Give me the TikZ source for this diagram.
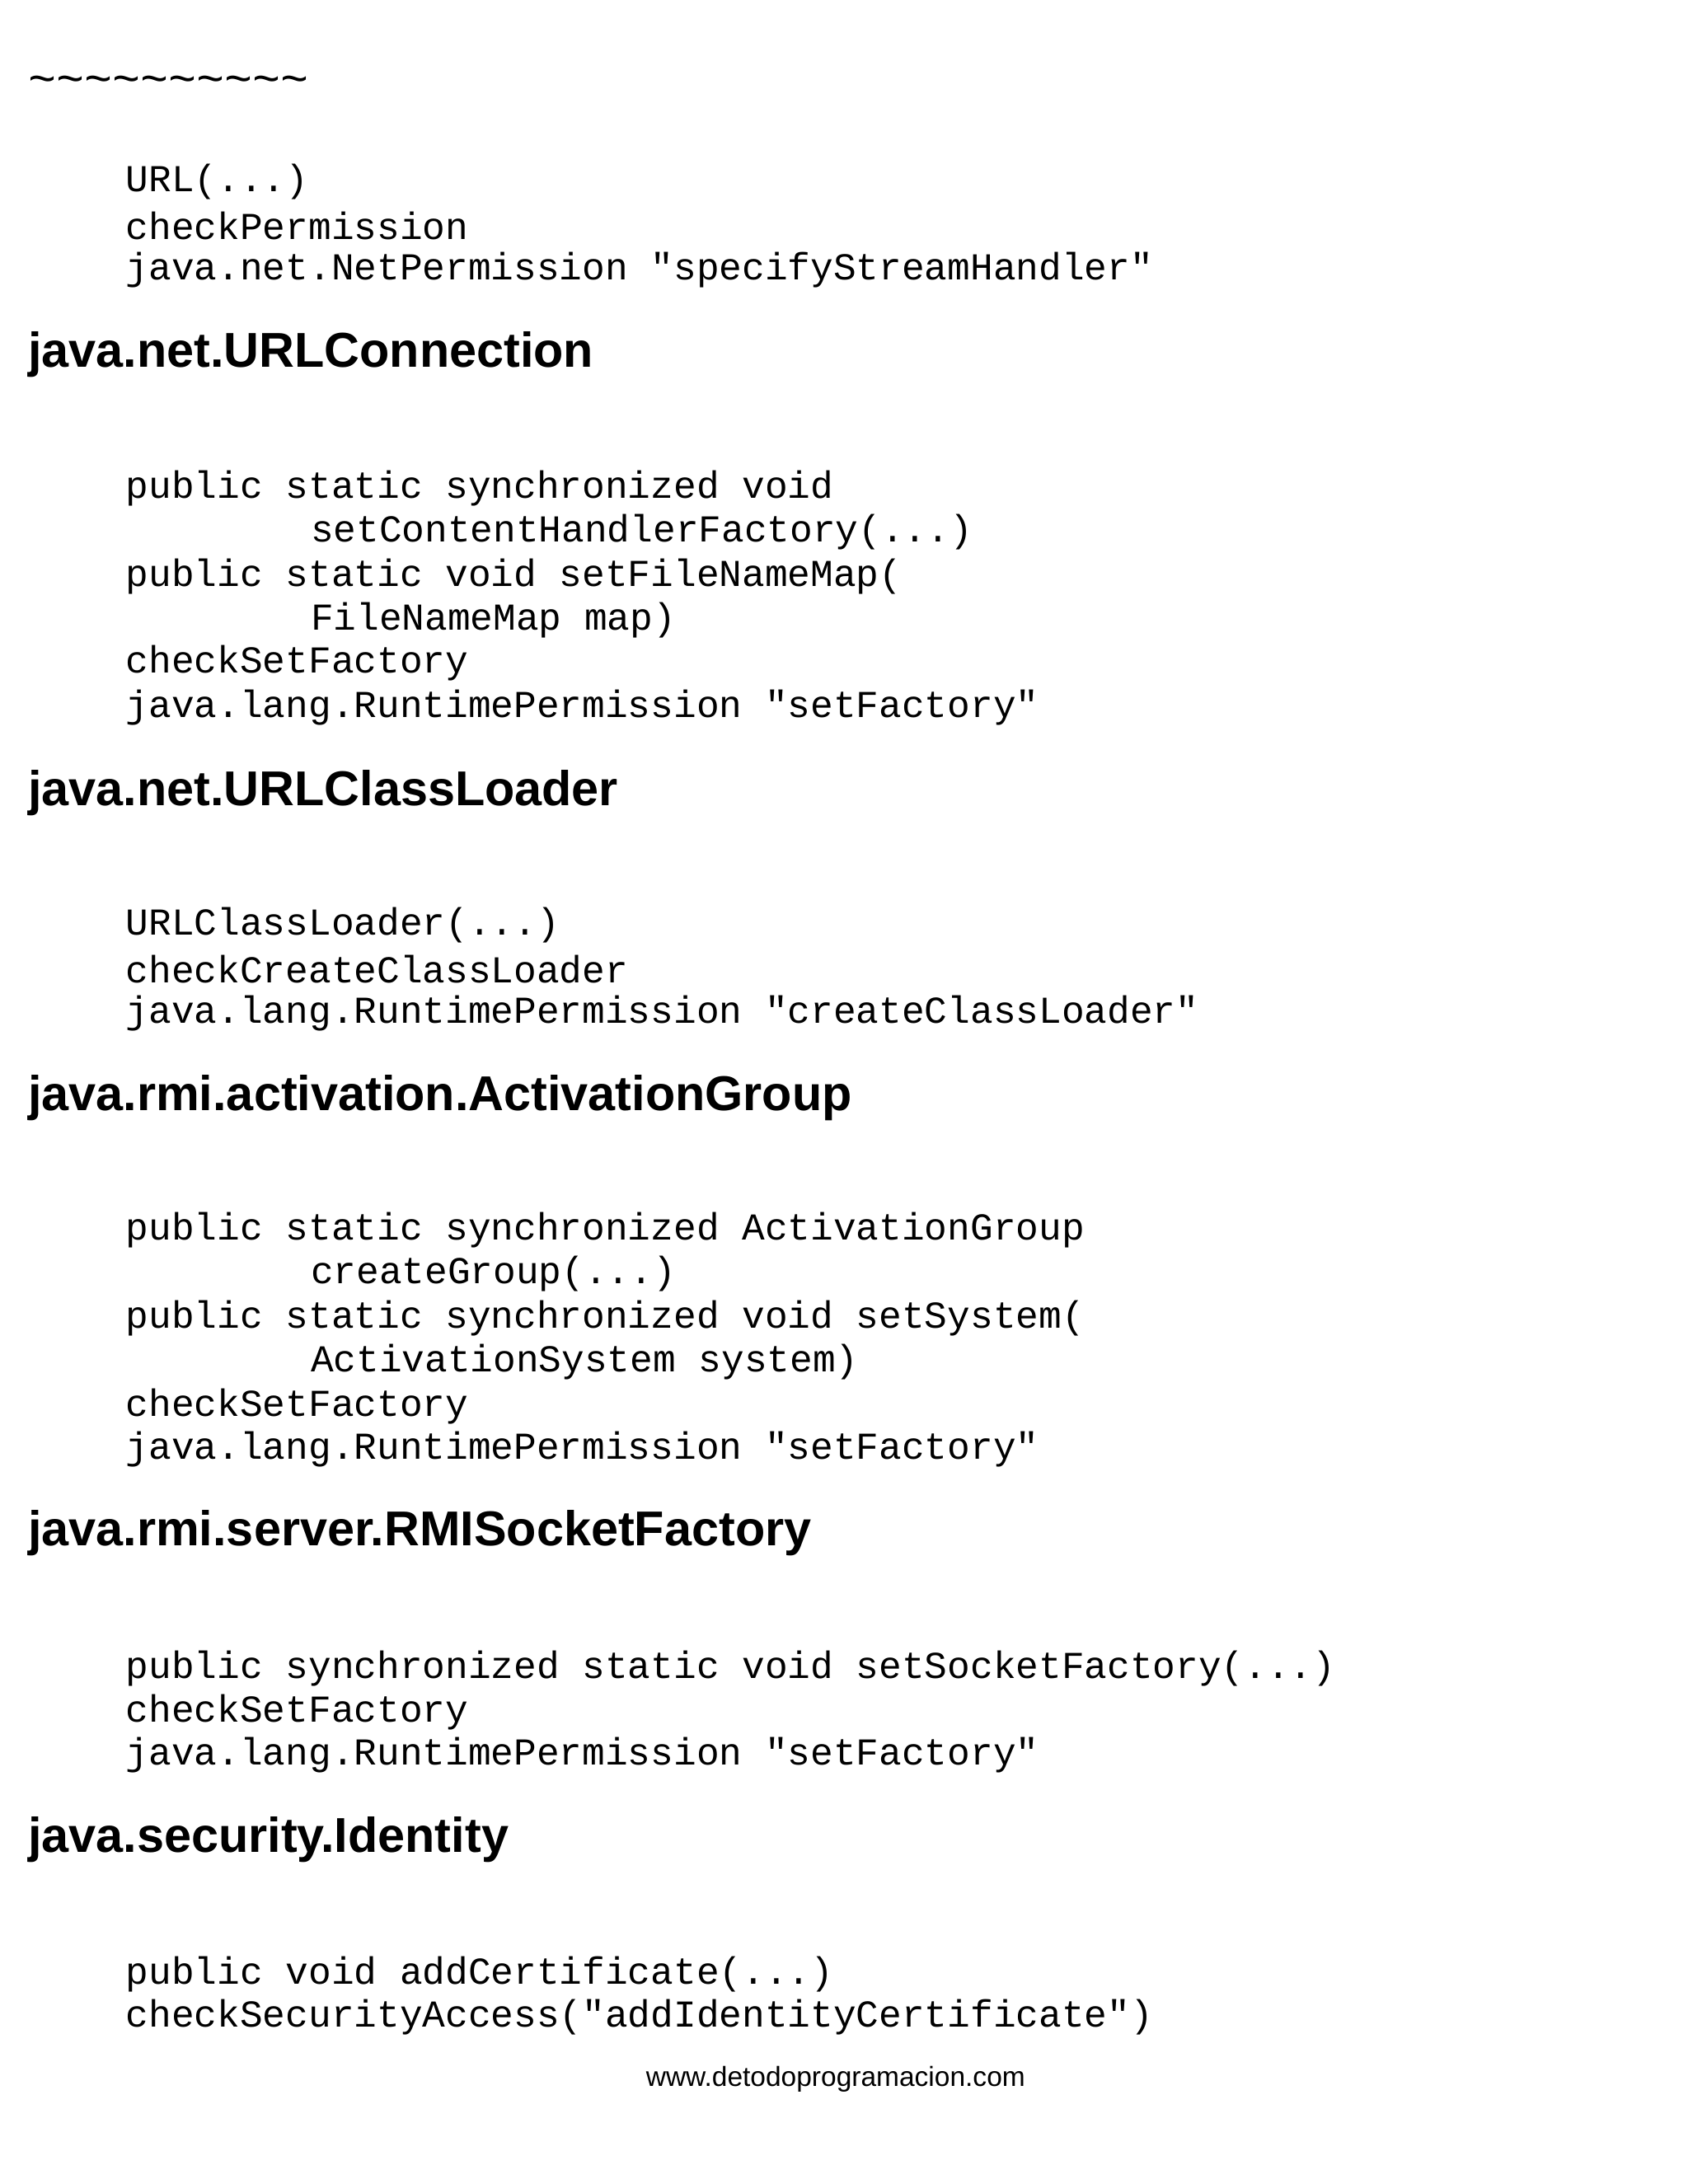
\documentclass[tikz,border=0pt]{standalone}
\usepackage{fontspec}
\setmainfont{Liberation Sans}
\setmonofont{Liberation Mono}
\begin{document}
\begin{tikzpicture}[x=0.02cm,y=-0.02cm,
  code/.style={anchor=west,inner sep=0pt,font=\ttfamily\fontsize{15.7}{18}\selectfont},
  head/.style={anchor=west,inner sep=0pt,font=\bfseries\fontsize{20.2}{23}\selectfont},
  foot/.style={anchor=center,inner sep=0pt,font=\fontsize{11.4}{13}\selectfont}]
\useasboundingbox[fill=white] (0,0) rectangle (1224,1584);
\node[code,font=\ttfamily\fontsize{19.3}{22}\selectfont] (t) at (20,62) {\string~\string~\string~\string~\string~\string~\string~\string~\string~\string~};
\node[code] (a1) at (91,132) {URL(...)};
\node[code] (a2) at (91,164) {checkPermission};
\node[code] (a3) at (91,196) {java.net.NetPermission "specifyStreamHandler"};
\node[head] (h1) at (20,257) {java.net.URLConnection};
\node[code] (b1) at (91,354) {public static synchronized void};
\node[code] (b2) at (225,386) {setContentHandlerFactory(...)};
\node[code] (b3) at (91,418) {public static void setFileNameMap(};
\node[code] (b4) at (225,450) {FileNameMap map)};
\node[code] (b5) at (91,481) {checkSetFactory};
\node[code] (b6) at (91,513) {java.lang.RuntimePermission "setFactory"};
\node[head] (h2) at (20,575) {java.net.URLClassLoader};
\node[code] (c1) at (91,671) {URLClassLoader(...)};
\node[code] (c2) at (91,703) {checkCreateClassLoader};
\node[code] (c3) at (91,735) {java.lang.RuntimePermission "createClassLoader"};
\node[head] (h3) at (20,796) {java.rmi.activation.ActivationGroup};
\node[code] (d1) at (91,892) {public static synchronized ActivationGroup};
\node[code] (d2) at (225,924) {createGroup(...)};
\node[code] (d3) at (91,956) {public static synchronized void setSystem(};
\node[code] (d4) at (225,988) {ActivationSystem system)};
\node[code] (d5) at (91,1020) {checkSetFactory};
\node[code] (d6) at (91,1051) {java.lang.RuntimePermission "setFactory"};
\node[head] (h4) at (20,1112) {java.rmi.server.RMISocketFactory};
\node[code] (e1) at (91,1210) {public synchronized static void setSocketFactory(...)};
\node[code] (e2) at (91,1242) {checkSetFactory};
\node[code] (e3) at (91,1273) {java.lang.RuntimePermission "setFactory"};
\node[head] (h5) at (20,1334) {java.security.Identity};
\node[code] (f1) at (91,1432) {public void addCertificate(...)};
\node[code] (f2) at (91,1463) {checkSecurityAccess("addIdentityCertificate")};
\node[foot] (ft) at (606,1508) {www.detodoprogramacion.com};
\end{tikzpicture}
\end{document}
